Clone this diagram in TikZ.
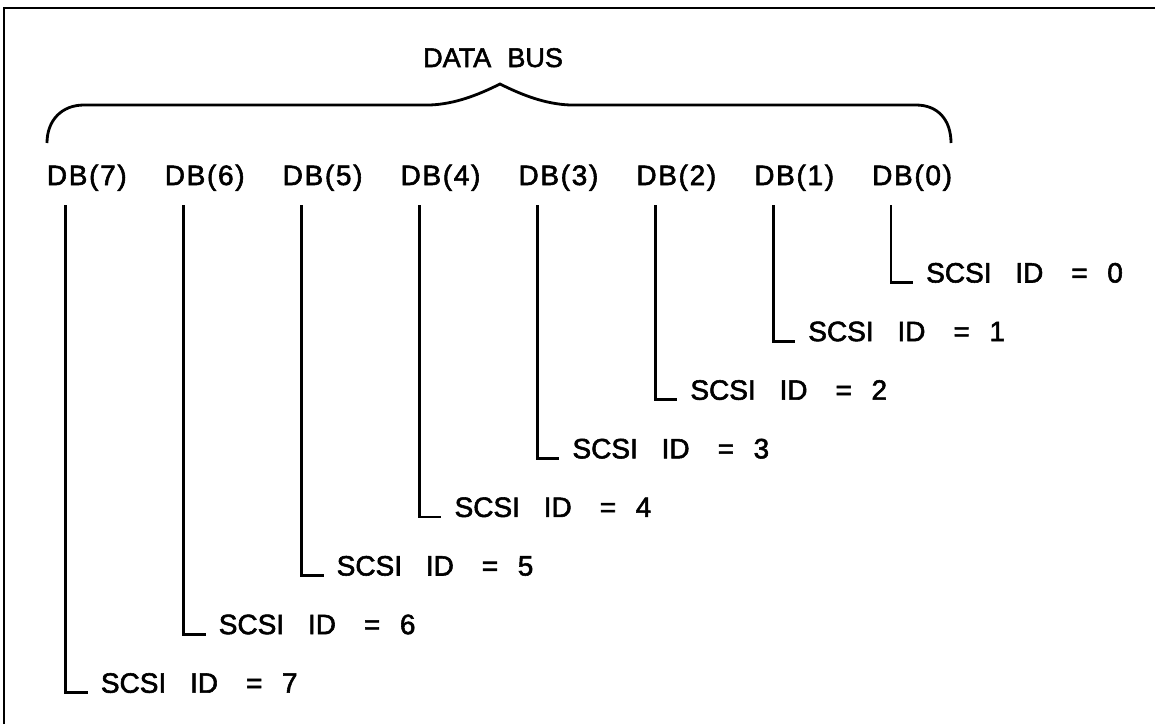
\documentclass[tikz,border=0pt]{standalone}
\usepackage{fontspec}
\setmainfont[FakeBold=2]{Liberation Sans}
\newfontfamily\dbfont[LetterSpace=6,FakeBold=2]{Liberation Sans}
\newcommand\idtext[1]{SCSI\hspace{0.85em}ID\hspace{1.0em}=\hspace{0.7em}#1}
\tikzset{
  lbl/.style={inner sep=0pt, anchor=base west, font=\fontsize{28pt}{30pt}\selectfont},
  dblbl/.style={lbl, font=\dbfont\fontsize{28pt}{30pt}\selectfont},
  wire/.style={line width=2.8pt},
}
\begin{document}
\begin{tikzpicture}[x=1pt,y=-1pt]
\useasboundingbox (0,0) rectangle (1155,724);
% frame (only top and left edges visible)
\draw[wire] (4,724) -- (4,8) -- (1155,8);
% title
\node[lbl, font=\fontsize{27pt}{30pt}\selectfont] (title) at (423,67) {DATA\hspace{0.6em}BUS};
% brace
\draw[wire] (47,143) .. controls (47,120) and (62,105) .. (84,105) -- (430,105)
  .. controls (455,104) and (478,95) .. (500,84)
  .. controls (522,95) and (545,104) .. (570,105) -- (916,105)
  .. controls (938,105) and (951,120) .. (951,143);
% bits
\foreach \k in {0,...,7} {
  \pgfmathsetmacro\lx{891-117.9*\k}
  \pgfmathsetmacro\ly{282.5+58.6*\k}
  \node[dblbl] (db\k) at (\lx-19,185) {DB(\k)};
  \coordinate (t\k) at (\lx,205);
  \node[lbl] (id\k) at (\lx+35,\ly) {\idtext{\k}};
  \draw[wire] (t\k) |- ([xshift=-13pt]id\k.base west);
}
\end{tikzpicture}
\end{document}
